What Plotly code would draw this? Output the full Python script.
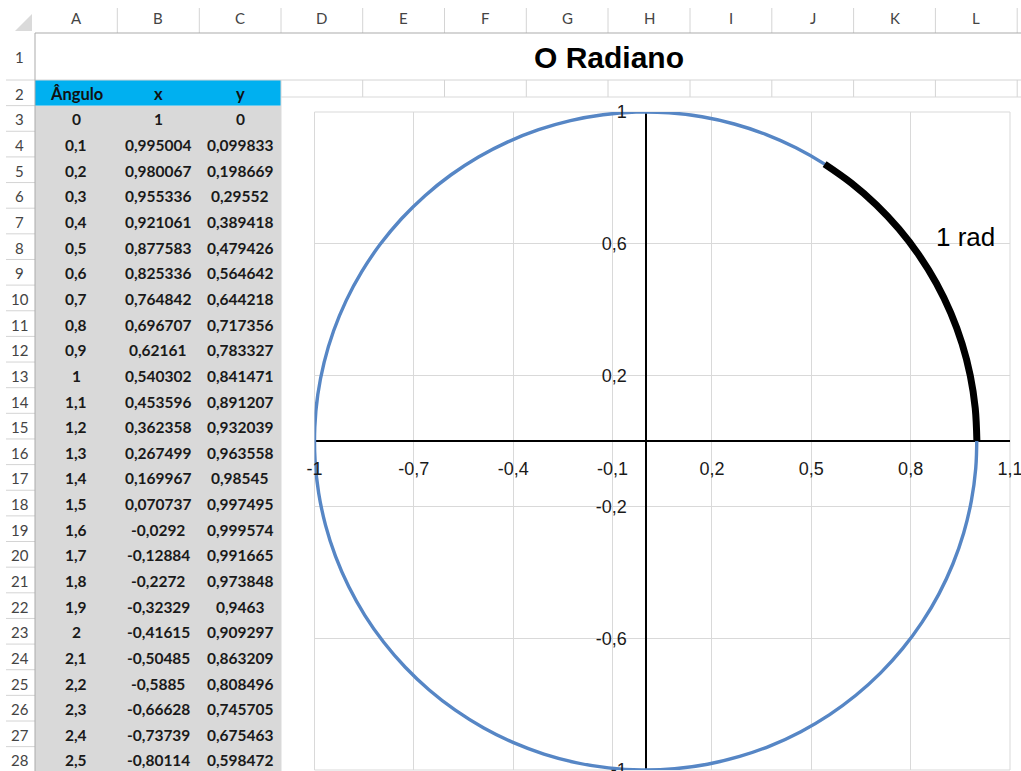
import plotly.graph_objects as go

W, H = 1021, 771

# ---------------- sheet data: columns A:C, rows 3-28 ----------------
angulo_txt = ["0", "0,1", "0,2", "0,3", "0,4", "0,5", "0,6", "0,7", "0,8", "0,9",
              "1", "1,1", "1,2", "1,3", "1,4", "1,5", "1,6", "1,7", "1,8", "1,9",
              "2", "2,1", "2,2", "2,3", "2,4", "2,5"]
x_txt = ["1", "0,995004", "0,980067", "0,955336", "0,921061", "0,877583", "0,825336",
         "0,764842", "0,696707", "0,62161", "0,540302", "0,453596", "0,362358",
         "0,267499", "0,169967", "0,070737", "-0,0292", "-0,12884", "-0,2272",
         "-0,32329", "-0,41615", "-0,50485", "-0,5885", "-0,66628", "-0,73739",
         "-0,80114"]
y_txt = ["0", "0,099833", "0,198669", "0,29552", "0,389418", "0,479426", "0,564642",
         "0,644218", "0,717356", "0,783327", "0,841471", "0,891207", "0,932039",
         "0,963558", "0,98545", "0,997495", "0,999574", "0,991665", "0,973848",
         "0,9463", "0,909297", "0,863209", "0,808496", "0,745705", "0,675463",
         "0,598472"]

# rows 29 onward of the same table (below the visible window), closing the turn
angulo_more = [2.6, 2.7, 2.8, 2.9, 3.0, 3.1, 3.2, 3.3, 3.4, 3.5, 3.6, 3.7, 3.8, 3.9,
               4.0, 4.1, 4.2, 4.3, 4.4, 4.5, 4.6, 4.7, 4.8, 4.9, 5.0, 5.1, 5.2, 5.3,
               5.4, 5.5, 5.6, 5.7, 5.8, 5.9, 6.0, 6.1, 6.2, 6.3]
x_more = [-0.856889, -0.904072, -0.942222, -0.970958, -0.989992, -0.999135, -0.998295,
          -0.987480, -0.966798, -0.936457, -0.896758, -0.848100, -0.790968, -0.725932,
          -0.653644, -0.574824, -0.490261, -0.400799, -0.307333, -0.210796, -0.112153,
          -0.012389, 0.087499, 0.186512, 0.283662, 0.377978, 0.468517, 0.554374,
          0.634693, 0.708670, 0.775566, 0.834713, 0.885520, 0.927478, 0.960170,
          0.983268, 0.996542, 0.999859]
y_more = [0.515501, 0.427380, 0.334988, 0.239249, 0.141120, 0.041581, -0.058374,
          -0.157746, -0.255541, -0.350783, -0.442520, -0.529836, -0.611858, -0.687766,
          -0.756802, -0.818277, -0.871576, -0.916166, -0.951602, -0.977530, -0.993691,
          -0.999923, -0.996165, -0.982453, -0.958924, -0.925815, -0.883455, -0.832267,
          -0.772764, -0.705540, -0.631267, -0.550686, -0.464602, -0.373877, -0.279415,
          -0.182163, -0.083089, 0.016814]

# axis ticks of the chart
x_ticks = [-1, -0.7, -0.4, -0.1, 0.2, 0.5, 0.8, 1.1]
y_ticks = [-1, -0.6, -0.2, 0.2, 0.6, 1]

col_letters = ["A", "B", "C", "D", "E", "F", "G", "H", "I", "J", "K", "L"]
header_txt = ["Ângulo", "x", "y"]
title_txt = "O Radiano"
arc_label = "1 rad"


def num(s):
    return float(s.replace(",", "."))


def pt(v):
    # decimal comma, plain hyphen for negatives
    return ("%g" % v).replace(".", ",")


angulo = [num(s) for s in angulo_txt]
x_vals = [num(s) for s in x_txt]
y_vals = [num(s) for s in y_txt]

circle_x = x_vals + x_more
circle_y = y_vals + y_more
arc_x = [x for a, x in zip(angulo, x_vals) if a <= 1]
arc_y = [y for a, y in zip(angulo, y_vals) if a <= 1]

# ---------------- sheet geometry (pixels) ----------------
col_edges = [35, 117.3, 199.3, 281, 362.7, 444.5, 526.3, 608, 690, 771.8, 853.6, 935.4, 1017.2]
ROW_H = 25.64
row_edges = [33, 80] + [80 + k * ROW_H for k in range(1, 28)]
CHART_TOP = 97
PLOT_L, PLOT_R = 314.5, 1010
PLOT_T, PLOT_B = 112, 770


def fx(p):
    return p / W


def fy(p):
    return 1 - p / H


shapes = []


def rect(x0, y0, x1, y1, fill, line=None, lw=0):
    shapes.append(dict(type="rect", xref="paper", yref="paper", layer="below",
                       x0=fx(x0), x1=fx(x1), y0=fy(y1), y1=fy(y0),
                       fillcolor=fill, line=dict(color=line or fill, width=lw)))


def seg(x0, y0, x1, y1, color, lw=1):
    shapes.append(dict(type="line", xref="paper", yref="paper", layer="below",
                       x0=fx(x0), x1=fx(x1), y0=fy(y0), y1=fy(y1),
                       line=dict(color=color, width=lw)))


GRID = "#D4D4D4"
HDR = "#ABABAB"

# cell fills
rect(col_edges[0], row_edges[1], col_edges[3], row_edges[2], "#00B0F0")
rect(col_edges[0], row_edges[2], col_edges[3], H + 2, "#D9D9D9")

# sheet gridlines in row 2 (columns D:L) and under the merged title row
seg(col_edges[0], row_edges[1], W, row_edges[1], GRID)
for cx in col_edges[3:]:
    seg(cx, row_edges[1], cx, CHART_TOP, GRID)

# column header strip
for cx in col_edges[1:]:
    seg(cx, 8, cx, row_edges[0], GRID)
seg(col_edges[0], row_edges[0], W, row_edges[0], HDR)
# row header strip
for ry in row_edges[1:]:
    seg(6, ry, col_edges[0], ry, GRID)
seg(col_edges[0], row_edges[0], col_edges[0], H, HDR)
# select-all corner
shapes.append(dict(type="path", xref="paper", yref="paper", layer="below",
                   path="M {},{} L {},{} L {},{} Z".format(fx(32), fy(14), fx(32), fy(31), fx(15), fy(31)),
                   fillcolor="#DADADA", line=dict(width=0)))

# chart area
rect(col_edges[3], CHART_TOP, W + 5, H + 5, "white", "#D9D9D9", 1)
rect(PLOT_L, PLOT_T, PLOT_R, PLOT_B, "rgba(0,0,0,0)", "#D9D9D9", 1)

annotations = []
CAL = "Lato"

for letter, a, b in zip(col_letters, col_edges[:-1], col_edges[1:]):
    annotations.append(dict(xref="paper", yref="paper", x=fx((a + b) / 2), y=fy(18),
                            text=letter, showarrow=False, xanchor="center", yanchor="middle",
                            font=dict(family=CAL, size=15, color="#444444")))
for n in range(1, 29):
    top, bot = row_edges[n - 1], row_edges[n]
    annotations.append(dict(xref="paper", yref="paper", x=fx(19.5), y=fy((top + bot) / 2 + 1),
                            text=str(n), showarrow=False, xanchor="center", yanchor="middle",
                            font=dict(family=CAL, size=15, color="#444444")))

# table header + values
for j, txt in enumerate(header_txt):
    annotations.append(dict(xref="paper", yref="paper",
                            x=fx((col_edges[j] + col_edges[j + 1]) / 2),
                            y=fy((row_edges[1] + row_edges[2]) / 2 + 1),
                            text="<b>%s</b>" % txt, showarrow=False, xanchor="center", yanchor="middle",
                            font=dict(family=CAL, size=16.5, color="#111111")))
for i, row in enumerate(zip(angulo_txt, x_txt, y_txt)):
    top, bot = row_edges[2 + i], row_edges[3 + i]
    for j, txt in enumerate(row):
        annotations.append(dict(xref="paper", yref="paper",
                                x=fx((col_edges[j] + col_edges[j + 1]) / 2),
                                y=fy((top + bot) / 2 + 1),
                                text="<b>%s</b>" % txt, showarrow=False, xanchor="center", yanchor="middle",
                                font=dict(family=CAL, size=15.5, color="#1A1A1A")))

# merged title cell
annotations.append(dict(xref="paper", yref="paper", x=fx(609), y=fy(58),
                        text="<b>%s</b>" % title_txt, showarrow=False, xanchor="center", yanchor="middle",
                        font=dict(family="Liberation Sans", size=30, color="black")))

# arc label in data coordinates
annotations.append(dict(xref="x", yref="y", x=0.967, y=0.62, text=arc_label, showarrow=False,
                        xanchor="center", yanchor="middle",
                        font=dict(family="Liberation Sans", size=26, color="black")))

fig = go.Figure()
fig.add_trace(go.Scatter(x=circle_x, y=circle_y, mode="lines",
                         line=dict(color="#5686C5", width=3.4, shape="spline"), hoverinfo="skip"))
fig.add_trace(go.Scatter(x=arc_x, y=arc_y, mode="lines",
                         line=dict(color="black", width=7, shape="spline"), hoverinfo="skip"))

xdom = [fx(PLOT_L), fx(PLOT_R)]
ydom = [fy(PLOT_B), fy(PLOT_T)]
x_zero_px = PLOT_L + (0 - (-1)) / 2.1 * (PLOT_R - PLOT_L)
y_zero_px = PLOT_B - (0 - (-1)) / 2.0 * (PLOT_B - PLOT_T)

tick_font = dict(family="Liberation Sans", size=18, color="#1A1A1A")
fig.update_layout(
    width=W, height=H, margin=dict(l=0, r=0, t=0, b=0, pad=0, autoexpand=False),
    paper_bgcolor="white", plot_bgcolor="rgba(0,0,0,0)",
    showlegend=False,
    shapes=shapes, annotations=annotations,
    xaxis=dict(domain=xdom, range=[-1, 1.1], tickmode="array", tickvals=x_ticks,
               ticktext=[pt(v) for v in x_ticks], anchor="free",
               position=fy(y_zero_px), showgrid=True, gridcolor="#D9D9D9", gridwidth=1,
               zeroline=True, zerolinecolor="black", zerolinewidth=2, automargin=False,
               showline=False, ticks="", ticklabelstandoff=15, tickfont=tick_font,
               ticklabeloverflow="allow", fixedrange=True),
    yaxis=dict(domain=ydom, range=[-1, 1], tickmode="array", tickvals=y_ticks,
               ticktext=[pt(v) for v in y_ticks], anchor="free",
               position=fx(x_zero_px), showgrid=True, gridcolor="#D9D9D9", gridwidth=1,
               zeroline=True, zerolinecolor="black", zerolinewidth=2, automargin=False,
               showline=False, ticks="", ticklabelstandoff=19, tickfont=tick_font,
               ticklabeloverflow="allow", fixedrange=True),
)

# page sits flush with the window edges
fig.write_html("out.html", config={"displayModeBar": False},
               post_script="document.body.style.margin='0';document.body.style.overflow='hidden';")
